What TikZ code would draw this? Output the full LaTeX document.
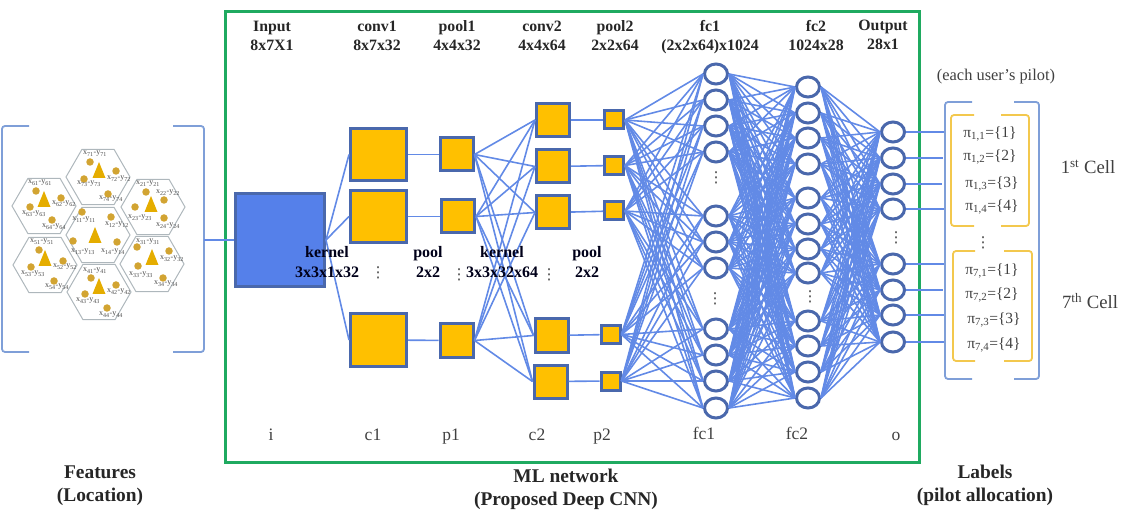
\documentclass[tikz,border=0pt]{standalone}
\usepackage{fontspec}
\setmainfont{Liberation Serif}
\newfontfamily\symfont{DejaVu Sans}
\usetikzlibrary{shapes.geometric,calc}
\definecolor{linkblue}{HTML}{628AE6}
\definecolor{edgeblue}{HTML}{4A68AC}
\definecolor{inputblue}{HTML}{5580EA}
\definecolor{boxyellow}{HTML}{FFC000}
\definecolor{netgreen}{HTML}{1FAA60}
\definecolor{brackblue}{HTML}{7F9FD8}
\definecolor{brackyellow}{HTML}{F3C84E}
\definecolor{hexgray}{HTML}{AEB7BC}
\definecolor{dotgold}{HTML}{D2A432}
\tikzset{
  box/.style={draw=edgeblue,fill=boxyellow,line width=3pt,inner sep=0pt},
  neuron/.style={ellipse,draw=edgeblue,fill=white,line width=3pt,minimum width=23pt,minimum height=20pt,inner sep=0pt},
  link/.style={linkblue,line width=1.6pt},
  head/.style={font=\bfseries\fontsize{15.8}{19}\selectfont,align=center,text=black!85,inner sep=0pt,
    execute at begin node=\strut,execute at end node=\strut},
  note/.style={head,font=\bfseries\fontsize{16}{20}\selectfont,text=black!90!blue},
  tag/.style={font=\fontsize{17.5}{19}\selectfont,text=black!75,inner sep=0pt,execute at begin node=\strut},
  pilot/.style={font=\fontsize{15.5}{18}\selectfont,text=black!75,inner sep=0pt,execute at begin node=\strut},
  cellname/.style={font=\fontsize{18.7}{20}\selectfont,text=black!75,inner sep=0pt},
  caption/.style={font=\bfseries\fontsize{19.4}{23}\selectfont,align=center,text=black!85,inner sep=0pt,
    execute at begin node=\strut,execute at end node=\strut},
  hex/.style={regular polygon,regular polygon sides=6,minimum size=64pt,inner sep=0pt,draw=hexgray,line width=1pt},
  user/.style={circle,fill=dotgold,minimum size=7.5pt,inner sep=0pt},
  tower/.style={fill=boxyellow!90!black},
  ulabel/.style={font=\fontsize{8}{9}\selectfont,text=black!70,inner sep=0pt},
  brack/.style={brackblue,line width=1.8pt,rounded corners=3pt},
  ybrack/.style={brackyellow,line width=1.8pt,rounded corners=3pt},
  dots/.style={font=\symfont\fontsize{15}{15}\selectfont,text=black!75,inner sep=0pt}
}
\newcommand{\xy}[1]{x\textsubscript{#1}-y\textsubscript{#1}}
\begin{document}
\begin{tikzpicture}[x=1pt,y=-1pt]
\useasboundingbox (0,0) rectangle (1137,518);
%Hexagon cells
\node[hex] (h7) at (98,177) {};
\node[hex] (h6) at (44,206) {};
\node[hex] (h2) at (153,207) {};
\node[hex] (h1) at (98,235) {};
\node[hex] (h5) at (45,265) {};
\node[hex] (h3) at (152,264) {};
\node[hex] (h4) at (99,292) {};
%Base stations
\foreach \name/\cx/\cy in {h7/99/170,h6/44/199,h2/151/204,h1/95/235,h3/152/257,h5/45/258,h4/99/286}
  \fill[tower] (\cx-6.5,\cy+8) -- (\cx+6.5,\cy+8) -- (\cx,\cy-8) -- cycle;
%Users
\node[user] (u71) at (90,162) {}; \node[ulabel] (t71) at (95,154) {\xy{71}};
\node[user] (u72) at (116,171) {}; \node[ulabel] (t72) at (119,179) {\xy{72}};
\node[user] (u73) at (84,179) {}; \node[ulabel] (t73) at (89,184) {\xy{73}};
\node[user] (u74) at (108,194) {}; \node[ulabel] (t74) at (111,199) {\xy{74}};
\node[user] (u61) at (36,191) {}; \node[ulabel] (t61) at (40,183) {\xy{61}};
\node[user] (u62) at (61,198) {}; \node[ulabel] (t62) at (64,204) {\xy{62}};
\node[user] (u63) at (30,207) {}; \node[ulabel] (t63) at (34,214) {\xy{63}};
\node[user] (u64) at (52,220) {}; \node[ulabel] (t64) at (54,227) {\xy{64}};
\node[user] (u21) at (146,192) {}; \node[ulabel] (t21) at (148,184) {\xy{21}};
\node[user] (u22) at (164,200) {}; \node[ulabel] (t22) at (168,193) {\xy{22}};
\node[user] (u23) at (135,207) {}; \node[ulabel] (t23) at (140,218) {\xy{23}};
\node[user] (u24) at (164,218) {}; \node[ulabel] (t24) at (168,226) {\xy{24}};
\node[user] (u11) at (82,212) {}; \node[ulabel] (t11) at (84,220) {\xy{11}};
\node[user] (u12) at (111,217) {}; \node[ulabel] (t12) at (117,225) {\xy{12}};
\node[user] (u13) at (73,241) {}; \node[ulabel] (t13) at (83,252) {\xy{13}};
\node[user] (u14) at (117,242) {}; \node[ulabel] (t14) at (113,252) {\xy{14}};
\node[user] (u31) at (137,247) {}; \node[ulabel] (t31) at (148,242) {\xy{31}};
\node[user] (u32) at (169,251) {}; \node[ulabel] (t32) at (172,259) {\xy{32}};
\node[user] (u33) at (138,266) {}; \node[ulabel] (t33) at (141,275) {\xy{33}};
\node[user] (u34) at (163,278) {}; \node[ulabel] (t34) at (166,284) {\xy{34}};
\node[user] (u51) at (39,250) {}; \node[ulabel] (t51) at (42,242) {\xy{51}};
\node[user] (u52) at (63,261) {}; \node[ulabel] (t52) at (65,267) {\xy{52}};
\node[user] (u53) at (31,267) {}; \node[ulabel] (t53) at (33,274) {\xy{53}};
\node[user] (u54) at (54,281) {}; \node[ulabel] (t54) at (57,287) {\xy{54}};
\node[user] (u41) at (91,278) {}; \node[ulabel] (t41) at (95,271) {\xy{41}};
\node[user] (u42) at (116,285) {}; \node[ulabel] (t42) at (119,292) {\xy{42}};
\node[user] (u43) at (85,294) {}; \node[ulabel] (t43) at (88,301) {\xy{43}};
\node[user] (u44) at (107,308) {}; \node[ulabel] (t44) at (111,315) {\xy{44}};
%Feature brackets
\draw[brack] (29,126) -- (2,126) -- (2,352) -- (29,352);
\draw[brack] (173,126) -- (204,126) -- (204,352) -- (173,352);
\coordinate (fb) at (204,240);
%Network frame
\draw[netgreen,line width=3pt] (225,12) rectangle (919,462);
%Layers
\node[box,fill=inputblue,minimum width=89pt,minimum height=93pt] (in) at (280,240) {};
\node[box,minimum width=56pt,minimum height=52pt] (c11) at (378.5,154.5) {};
\node[box,minimum width=56pt,minimum height=52pt] (c12) at (378.5,216.5) {};
\node[box,minimum width=56pt,minimum height=52pt] (c13) at (378.5,340) {};
\node[box,minimum width=33pt,minimum height=33pt] (p11) at (456.5,154.5) {};
\node[box,minimum width=33pt,minimum height=33pt] (p12) at (458,216.5) {};
\node[box,minimum width=33pt,minimum height=33pt] (p13) at (456.5,340.5) {};
\node[box,minimum width=33pt,minimum height=33pt] (c21) at (553,120) {};
\node[box,minimum width=33pt,minimum height=33pt] (c22) at (553,166.5) {};
\node[box,minimum width=33pt,minimum height=33pt] (c23) at (553,212.5) {};
\node[box,minimum width=33pt,minimum height=33pt] (c24) at (551.5,335.5) {};
\node[box,minimum width=33pt,minimum height=33pt] (c25) at (550.5,381.5) {};
\node[box,minimum width=19pt,minimum height=18pt] (p21) at (614,120) {};
\node[box,minimum width=19pt,minimum height=18pt] (p22) at (614,165.5) {};
\node[box,minimum width=19pt,minimum height=18pt] (p23) at (614,211) {};
\node[box,minimum width=19pt,minimum height=18pt] (p24) at (610.5,334.5) {};
\node[box,minimum width=19pt,minimum height=18pt] (p25) at (610.5,381) {};
%fc1 neurons
\node[neuron] (f1) at (716,74) {};
\node[neuron] (f2) at (716,100) {};
\node[neuron] (f3) at (716,126) {};
\node[neuron] (f4) at (716,152) {};
\node[neuron] (f5) at (716,216) {};
\node[neuron] (f6) at (716,242) {};
\node[neuron] (f7) at (716,268) {};
\node[neuron] (f8) at (716,329) {};
\node[neuron] (f9) at (716,355) {};
\node[neuron] (f10) at (716,381) {};
\node[neuron] (f11) at (716,408) {};
%fc2 neurons
\node[neuron] (g1) at (808,87) {};
\node[neuron] (g2) at (808,113) {};
\node[neuron] (g3) at (808,138) {};
\node[neuron] (g4) at (808,164) {};
\node[neuron] (g5) at (808,198) {};
\node[neuron] (g6) at (808,224) {};
\node[neuron] (g7) at (808,249) {};
\node[neuron] (g8) at (808,273) {};
\node[neuron] (g9) at (808,321) {};
\node[neuron] (g10) at (808,346) {};
\node[neuron] (g11) at (808,372) {};
\node[neuron] (g12) at (808,398) {};
%Output neurons
\node[neuron] (o1) at (893,132) {};
\node[neuron] (o2) at (893,158) {};
\node[neuron] (o3) at (893,184) {};
\node[neuron] (o4) at (893,209) {};
\node[neuron] (o5) at (893,264) {};
\node[neuron] (o6) at (893,290) {};
\node[neuron] (o7) at (893,315) {};
\node[neuron] (o8) at (893,342) {};
%Free ends at the label bracket
\coordinate (l1) at (946,132);
\coordinate (l2) at (943,158);
\coordinate (l3) at (942,184);
\coordinate (l4) at (946,209);
\coordinate (l5) at (946,264);
\coordinate (l6) at (943,290);
\coordinate (l7) at (946,315);
\coordinate (l8) at (946,342);
%Links
\draw[link] (fb) -- (in.west);
\foreach \c in {c11,c12,c13} \draw[link] (in.east) -- (\c.west);
\draw[link] (c11) -- (p11);
\draw[link] (c12) -- (p12);
\draw[link] (c13) -- (p13);
\foreach \p in {p11,p12,p13} \foreach \c in {c21,c22,c23,c24,c25} \draw[link] (\p.east) -- (\c.west);
\draw[link] (c21) -- (p21);
\draw[link] (c22) -- (p22);
\draw[link] (c23) -- (p23);
\draw[link] (c24) -- (p24);
\draw[link] (c25) -- (p25);
\foreach \p in {p21,p22,p23,p24,p25} \foreach \i in {1,...,11} \draw[link] (\p.east) -- (f\i.west);
\foreach \i in {1,...,11} \foreach \j in {1,...,12} \draw[link] (f\i.east) -- (g\j.west);
\foreach \j in {1,...,12} \foreach \k in {1,...,8} \draw[link] (g\j.east) -- (o\k.west);
\foreach \k in {1,...,8} \draw[link] (o\k.east) -- (l\k);
%Label brackets
\draw[brack] (972,102) -- (945,102) -- (945,379) -- (972,379);
\draw[brack] (1014,102) -- (1039,102) -- (1039,379) -- (1014,379);
\draw[ybrack] (974,115) -- (951,115) -- (951,226) -- (974,226);
\draw[ybrack] (1001,115) -- (1029,115) -- (1029,226) -- (1001,226);
\draw[ybrack] (975,251) -- (953,251) -- (953,361) -- (975,361);
\draw[ybrack] (1004,251) -- (1032,251) -- (1032,361) -- (1004,361);
%Dots
\node[dots] (d1) at (378,273) {⋮};
\node[dots] (d2) at (459,275) {⋮};
\node[dots] (d3) at (549,275) {⋮};
\node[dots] (d4) at (716,178) {⋮};
\node[dots] (d5) at (715,299) {⋮};
\node[dots] (d6) at (810,297) {⋮};
\node[dots] (d7) at (896,238) {⋮};
\node[dots] (d8) at (983,243) {⋮};
%Headers
\node[head] (h-in) at (272,38.5) {Input\\8x7X1};
\node[head] (h-c1) at (377,38.5) {conv1\\8x7x32};
\node[head] (h-p1) at (457,38.5) {pool1\\4x4x32};
\node[head] (h-c2) at (542,38.5) {conv2\\4x4x64};
\node[head] (h-p2) at (615,38.5) {pool2\\2x2x64};
\node[head] (h-f1) at (710,38.5) {fc1\\(2x2x64)x1024};
\node[head] (h-f2) at (816,38) {fc2\\1024x28};
\node[head] (h-o) at (883,38) {Output\\28x1};
%Kernel and pool notes
\node[note] (k1) at (327,264.5) {kernel\\3x3x1x32};
\node[note] (n1) at (428,264.5) {pool\\2x2};
\node[note] (k2) at (502,264.5) {kernel\\3x3x32x64};
\node[note] (n2) at (587,264.5) {pool\\2x2};
%Layer tags
\node[tag] (t-i) at (271,437) {i};
\node[tag] (t-c1) at (373,437) {c1};
\node[tag] (t-p1) at (451,437) {p1};
\node[tag] (t-c2) at (537,437) {c2};
\node[tag] (t-p2) at (602,437) {p2};
\node[tag] (t-f1) at (704,436) {fc1};
\node[tag] (t-f2) at (797,436) {fc2};
\node[tag] (t-o) at (896,437) {o};
%Pilots
\node[pilot,font=\fontsize{16.4}{18}\selectfont] (top) at (996,77) {(each user’s pilot)};
\node[pilot] (q1) at (990,134) {π\textsubscript{1,1}=\{1\}};
\node[pilot] (q2) at (990,157) {π\textsubscript{1,2}=\{2\}};
\node[pilot] (q3) at (992,184) {π\textsubscript{1,3}=\{3\}};
\node[pilot] (q4) at (992,207) {π\textsubscript{1,4}=\{4\}};
\node[pilot] (q5) at (992,271) {π\textsubscript{7,1}=\{1\}};
\node[pilot] (q6) at (992,295) {π\textsubscript{7,2}=\{2\}};
\node[pilot] (q7) at (994,320) {π\textsubscript{7,3}=\{3\}};
\node[pilot] (q8) at (994,345) {π\textsubscript{7,4}=\{4\}};
\node[cellname] (cell1) at (1088,167) {1\textsuperscript{st} Cell};
\node[cellname] (cell7) at (1090,301) {7\textsuperscript{th} Cell};
%Captions
\node[caption] (cap1) at (100,487) {Features\\(Location)};
\node[caption] (cap2) at (566,491) {ML network\\(Proposed Deep CNN)};
\node[caption] (cap3) at (985,487) {Labels\\(pilot allocation)};
\end{tikzpicture}
\end{document}
